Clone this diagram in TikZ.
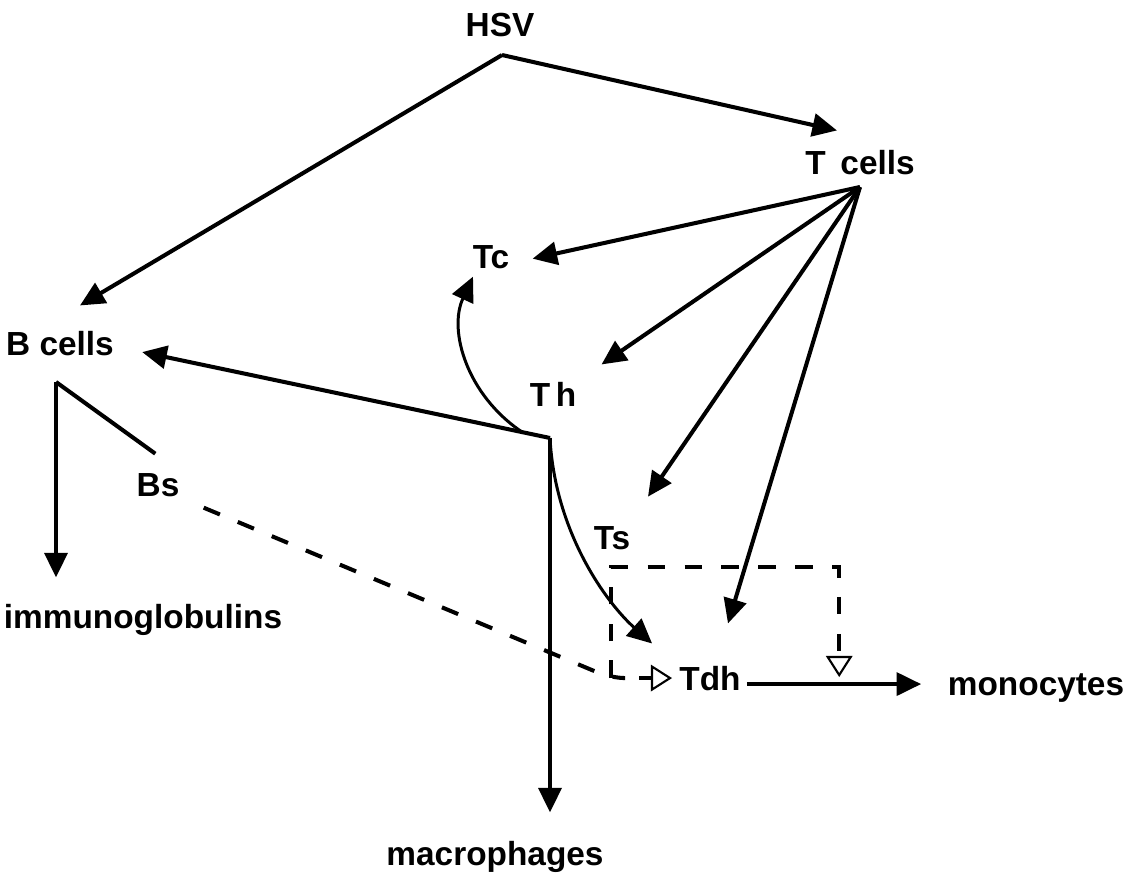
\documentclass[tikz,border=0pt]{standalone}
\usepackage{fontspec}
\setmainfont{Liberation Sans}
\usetikzlibrary{arrows.meta,calc}
\tikzset{
  lbl/.style={font=\fontsize{19}{21}\selectfont\bfseries, inner sep=0pt, anchor=base},
  arr/.style={line width=2.3pt, -{Triangle[length=14pt,width=13pt]}},
  curv/.style={line width=1.7pt, -{Triangle[length=14pt,width=13pt]}},
  dsh/.style={line width=2.3pt, dash pattern=on 10pt off 11pt},
  oarr/.style={-{Triangle[open,length=12pt,width=15pt,line width=1.2pt]}},
}
\begin{document}
\begin{tikzpicture}[x=0.02cm,y=-0.02cm]
  \useasboundingbox (0,0) rectangle (1134,885);
  % Labels
  \node[lbl] (hsv) at (500,37) {HSV};
  \node[lbl] (tcells) at (860,175) {T\, cells};
  \node[lbl] (tc) at (491,269) {Tc};
  \node[lbl] (bcells) at (60,356) {B cells};
  \node[lbl] (th) at (553,407) {T\,h};
  \node[lbl] (bs) at (158,497) {Bs};
  \node[lbl] (ts) at (612,550) {Ts};
  \node[lbl] (tdh) at (710,690) {Tdh};
  \node[lbl] (monocytes) at (1036,695) {monocytes};
  \node[lbl] (immunoglobulins) at (143,628) {immunoglobulins};
  \node[lbl] (macrophages) at (495,865) {macrophages};
  % Branch points
  \coordinate (hsvpt) at (502,55);
  \coordinate (tpt) at (860,187);
  \coordinate (thpt) at (550,438);
  \coordinate (bpt) at (56,382);
  \coordinate (jpt) at ($(tdh.west)+(-68,0)$);
  \coordinate (tdhout) at ($(tdh.east)+(6,6)$);
  % HSV
  \draw[arr] (hsvpt) -- ($(bcells.north)+(20,-26)$);
  \draw[arr] (hsvpt) -- ($(tcells.north)+(-23,-20)$);
  % T cells
  \draw[arr] (tpt) -- ($(tc.east)+(23,1)$);
  \draw[arr] (tpt) -- ($(th.north east)+(25,-18)$);
  \draw[arr] (tpt) -- ($(ts.north)+(36,-30)$);
  \draw[arr] (tpt) -- ($(tdh.north)+(18,-42)$);
  % Th
  \draw[arr] (thpt) -- ($(bcells.east)+(28,8)$);
  \draw[arr] (thpt) -- ($(thpt |- macrophages.north)+(0,-28)$);
  \draw[curv] ($(thpt)+(-28,-6)$) .. controls +(-55,-37) and +(-25,54) .. ($(tc.south)+(-18,7)$);
  \draw[curv] (thpt) .. controls +(5,95) and +(-45,-40) .. ($(tdh.north west)+(-27,-22)$);
  % B cells
  \draw[arr] (bpt) -- ($(bpt |- immunoglobulins.north)+(0,-26)$);
  \draw[line width=2.3pt] (bpt) -- ($(bs.north west)+(19,-20)$);
  % Bs and Ts to Tdh
  \draw[dsh, rounded corners=8pt] ($(bs.east)+(24,22)$) -- (jpt) -- ++(12,0);
  \draw[line width=2.3pt, oarr, shorten >=4pt] ($(jpt)+(28,0)$) -- (tdh.west);
  \path (tdhout) -- (tdhout -| monocytes.west) coordinate[pos=0.46] (mline);
  \draw[dsh, oarr, shorten >=4pt] (jpt) -- ++(0,-111) -| (mline);
  % Tdh
  \draw[arr, shorten >=15pt] (tdhout) -- (tdhout -| monocytes.west);
\end{tikzpicture}
\end{document}
